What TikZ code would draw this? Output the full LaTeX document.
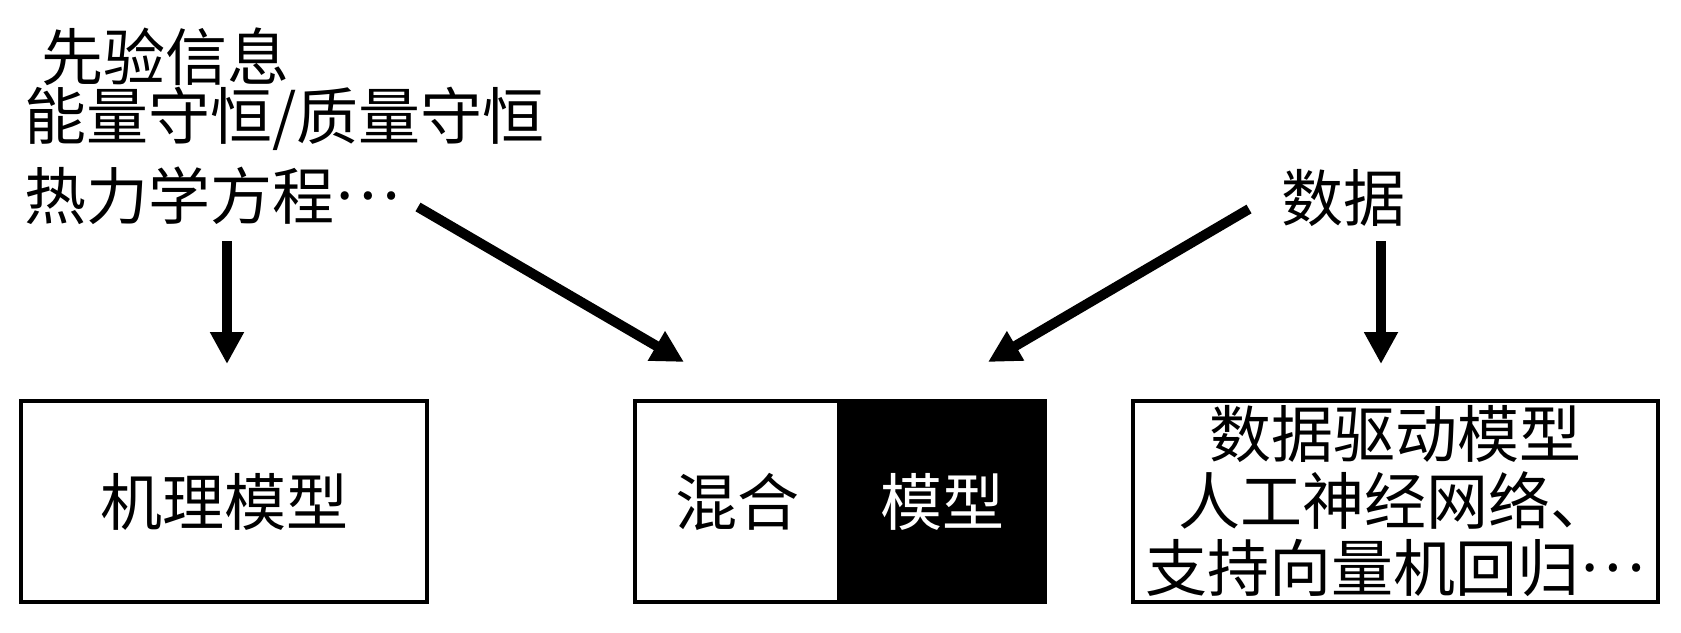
\documentclass[tikz,border=0pt]{standalone}
\usepackage{fontspec}
\setmainfont{Noto Sans CJK SC}
\usetikzlibrary{arrows.meta}
\newcommand{\middots}{\raisebox{0.33em}[0pt][0pt]{…}}
\begin{document}
\begin{tikzpicture}[x=1pt,y=-1pt,
  txt/.style={inner sep=0pt, font=\fontsize{62}{72}\selectfont},
  box/.style={draw, line width=4pt, inner sep=0pt, minimum height=201pt},
  arr/.style={line width=10pt, -{Triangle[length=32pt,width=32pt]}}]
\useasboundingbox[fill=white] (0,0) rectangle (1681,632);
% prior knowledge text
\node[txt, anchor=west] (p1) at (41,57) {先验信息};
\node[txt, anchor=west] (p2) at (24,119) {能量守恒/质量守恒};
\node[txt, anchor=west] (p3) at (24,196) {热力学方程\middots};
\node[txt, anchor=west] (data) at (1281,198) {数据};
% boxes
\node[box, txt, line width=4pt, minimum width=406pt, minimum height=201pt] (mech) at (224,501.5) {机理模型};
\node[box, txt, line width=4pt, minimum width=204pt, minimum height=201pt] (mixL) at (737,501.5) {混合};
\node[box, txt, line width=4pt, fill=black, text=white, minimum width=206pt, minimum height=201pt] (mixR) at (942,501.5) {模型};
\node[box, line width=4pt, minimum width=525pt, minimum height=201pt] (dd) at (1395.5,501.5) {};
\node[txt, align=center, font=\fontsize{62}{67}\selectfont] (ddtext) at (1395.5,501) {数据驱动模型\\人工神经网络、\\支持向量机回归\middots};
% arrow endpoints
\coordinate (a1s) at (227,241);
\coordinate (a1e) at (227,364);
\coordinate (a2s) at (418,207);
\coordinate (a2e) at (684,362);
\coordinate (a3s) at (1249,209);
\coordinate (a3e) at (988,362);
\coordinate (a4s) at (1381,241);
\coordinate (a4e) at (1381,364);
\draw[arr] (a1s) -- (a1e);
\draw[arr] (a2s) -- (a2e);
\draw[arr] (a3s) -- (a3e);
\draw[arr] (a4s) -- (a4e);
\end{tikzpicture}
\end{document}
